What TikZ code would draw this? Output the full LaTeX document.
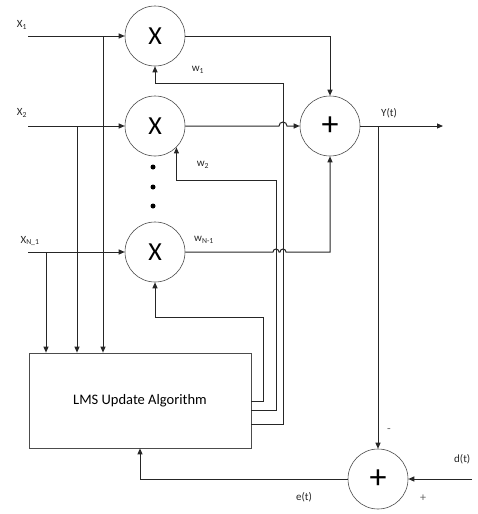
\documentclass[tikz,border=0pt]{standalone}
\usepackage{fontspec}
\setmainfont{Carlito}
\usetikzlibrary{arrows.meta}
\begin{document}
\begin{tikzpicture}[x=1pt,y=1pt,
  wire/.style={line width=1pt, black!85},
  arr/.style={wire, -{Triangle[length=6pt,width=5pt]}},
  mult/.style={circle, draw=black!70, line width=0.6pt, minimum size=60pt, inner sep=0pt, font=\fontsize{26}{26}\selectfont},
  adder/.style={mult, font=\fontsize{34}{34}\selectfont},
  box/.style={draw=black!70, line width=0.7pt, minimum width=222pt, minimum height=95pt, inner sep=0pt, font=\fontsize{14.5}{14.5}\selectfont},
  lbl/.style={font=\fontsize{11}{11}\selectfont, inner sep=0pt, text=black!85},
  sgn/.style={font=\fontsize{12}{12}\selectfont, inner sep=0pt, text=black!60},
  dotmark/.style={circle, fill=black, inner sep=0pt, minimum size=5pt}
]
\useasboundingbox (0,0) rectangle (477,-514);

% nodes
\node[mult] (m1) at (155,-36) {X};
\node[mult] (m2) at (155,-126) {X};
\node[mult] (m3) at (155,-252) {X};
\node[adder] (s1) at (330,-126) {+};
\node[adder] (s2) at (378,-479) {+};
\node[box] (lms) at (140,-400.5) {LMS Update Algorithm};

\node[dotmark] (d1) at (153,-167) {};
\node[dotmark] (d2) at (153,-187) {};
\node[dotmark] (d3) at (153,-206) {};

% input coordinates
\coordinate (in1) at (28,-36);
\coordinate (in2) at (28,-126);
\coordinate (in3) at (28,-252);
\coordinate (t1) at (103,-36);
\coordinate (t2) at (77,-126);
\coordinate (t3) at (46,-252);

% inputs
\draw[arr] (in1) -- (m1);
\draw[arr] (in2) -- (m2);
\draw[arr] (in3) -- (m3);
\draw[arr] (t1) -- (t1 |- lms.north);
\draw[arr] (t2) -- (t2 |- lms.north);
\draw[arr] (t3) -- (t3 |- lms.north);

% multiplier outputs to adder
\draw[arr] (m1.east) -- (m1.east -| s1) -- (s1.north);
\draw[arr] (m2.east) -- (279,-126) arc[start angle=180,end angle=0,radius=4] -- (s1.west);
\draw[arr] (m3.east) -- (273,-252) arc[start angle=180,end angle=0,radius=3]
  -- (280,-252) arc[start angle=180,end angle=0,radius=3] -- (s1.south |- m3.east) -- (s1.south);

% weight feedback from LMS
\coordinate (w1c) at (283,-83);
\coordinate (w2c) at (276,-180);
\coordinate (w3c) at (263,-317);
\draw[arr] ([yshift=-23.5pt]lms.east) -| (w1c) -| (m1.south);
\draw[arr] ([yshift=-9.5pt]lms.east) -| (w2c) -| (m2.-45);
\draw[arr] ([yshift=-0.5pt]lms.east) -| (w3c) -| (m3.south);

% output and error
\coordinate (ytap) at (378,-126);
\coordinate (yout) at (443,-126);
\coordinate (din) at (472,-479);
\draw[arr] (s1.east) -- (yout);
\draw[arr] (ytap) -- (s2.north);
\draw[arr] (din) -- (s2.east);
\draw[arr] (s2.west) -| (lms.south);

% labels
\node[lbl] (lx1) at (22,-25) {X\textsubscript{1}};
\node[lbl] (lx2) at (22,-113) {X\textsubscript{2}};
\node[lbl] (lx3) at (30,-241) {X\textsubscript{N\_1}};
\node[lbl] (lw1) at (198,-70) {w\textsubscript{1}};
\node[lbl] (lw2) at (203,-165) {w\textsubscript{2}};
\node[lbl] (lw3) at (204,-240) {w\textsubscript{N-1}};
\node[lbl] (ly) at (389,-113) {Y(t)};
\node[lbl, anchor=west] (ld) at (454,-459) {d(t)};
\node[lbl] (le) at (304,-497) {e(t)};
\node[sgn] (lminus) at (389,-431) {-};
\node[sgn] (lplus) at (423,-498) {+};
\end{tikzpicture}
\end{document}
